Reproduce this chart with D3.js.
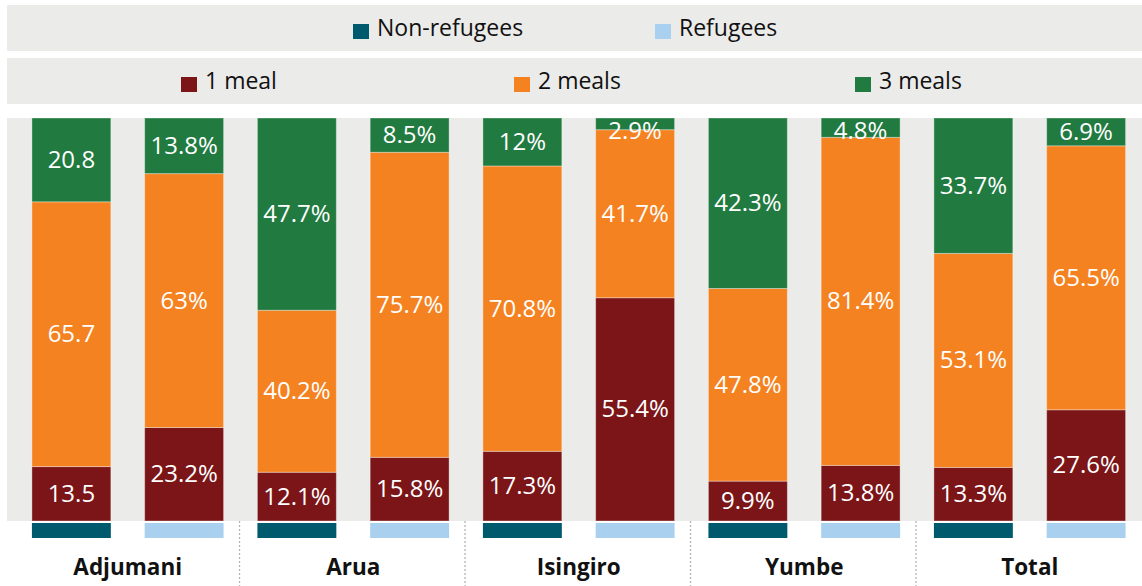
<!DOCTYPE html>
<html>
<head>
<meta charset="utf-8">
<script src="https://cdn.jsdelivr.net/npm/d3@7"></script>
<style>
  body { margin: 0; background: #fff; }
  text { font-family: "Open Sans", sans-serif; }
</style>
</head>
<body>
<div id="vis"></div>
<script>
const WIDTH = 1142;
const HEIGHT = 586;
const PLOT = {left: 7, right: 1142, top: 118, bottom: 521};

// data
const districts = ['Adjumani', 'Arua', 'Isingiro', 'Yumbe', 'Total'];
const groups = ['Non-refugees', 'Refugees'];
const meals = ['1 meal', '2 meals', '3 meals'];

const oneMeal = [[13.5, 23.2], [12.1, 15.8], [17.3, 55.4], [9.9, 13.8], [13.3, 27.6]];
const twoMeals = [[65.7, 63], [40.2, 75.7], [70.8, 41.7], [47.8, 81.4], [53.1, 65.5]];
const threeMeals = [[20.8, 13.8], [47.7, 8.5], [12, 2.9], [42.3, 4.8], [33.7, 6.9]];

const oneMealLabels = [['13.5', '23.2%'], ['12.1%', '15.8%'], ['17.3%', '55.4%'], ['9.9%', '13.8%'], ['13.3%', '27.6%']];
const twoMealLabels = [['65.7', '63%'], ['40.2%', '75.7%'], ['70.8%', '41.7%'], ['47.8%', '81.4%'], ['53.1%', '65.5%']];
const threeMealLabels = [['20.8', '13.8%'], ['47.7%', '8.5%'], ['12%', '2.9%'], ['42.3%', '4.8%'], ['33.7%', '6.9%']];

const MEAL_COLORS = ['#7B1517', '#F58220', '#217A3F'];
const GROUP_COLORS = ['#005A6E', '#A9D1EF'];
const BG = '#EBEBE9';

// flat rows, one per bar
const rows = [];
districts.forEach((d, i) => {
  groups.forEach((g, j) => {
    rows.push({
      district: d, group: g,
      '1 meal': oneMeal[i][j], '2 meals': twoMeals[i][j], '3 meals': threeMeals[i][j],
      labels: [oneMealLabels[i][j], twoMealLabels[i][j], threeMealLabels[i][j]]
    });
  });
});

const svg = d3.select('#vis').append('svg')
  .attr('width', WIDTH).attr('height', HEIGHT);

// legend boxes
const legends = [
  {y: 5, items: groups, colors: GROUP_COLORS, xs: [353, 655]},
  {y: 58, items: meals, colors: MEAL_COLORS, xs: [181, 514, 855]}
];
legends.forEach(l => {
  svg.append('rect').attr('x', 7).attr('y', l.y).attr('width', 1135).attr('height', 46).attr('fill', BG);
  l.items.forEach((name, i) => {
    svg.append('rect').attr('x', l.xs[i]).attr('y', l.y + 19).attr('width', 16).attr('height', 15).attr('fill', l.colors[i]);
    svg.append('text').attr('x', l.xs[i] + 24).attr('y', l.y + 31)
      .attr('font-size', 23).attr('fill', '#111').text(name);
  });
});

// scales
const x0 = d3.scaleBand().domain(districts).range([15, 1142.5]);
const x1 = d3.scaleBand().domain(groups).range([0, x0.bandwidth()])
  .paddingInner(0.3).paddingOuter(0.15);
const y = d3.scaleLinear().domain([0, 100]).range([PLOT.bottom, PLOT.top]);

svg.append('rect').attr('x', PLOT.left).attr('y', PLOT.top)
  .attr('width', PLOT.right - PLOT.left).attr('height', PLOT.bottom - PLOT.top).attr('fill', BG);

const stack = d3.stack().keys(meals)(rows);

const layers = svg.selectAll('g.layer').data(stack).enter().append('g').attr('class', 'layer');

layers.selectAll('rect').data((s, k) => s.map(d => ({d, k}))).enter().append('rect')
  .attr('x', o => x0(o.d.data.district) + x1(o.d.data.group))
  .attr('y', o => y(Math.min(o.d[1], 100)))
  .attr('width', x1.bandwidth())
  .attr('height', o => y(o.d[0]) - y(Math.min(o.d[1], 100)))
  .attr('fill', o => MEAL_COLORS[o.k])
  .attr('stroke', 'rgba(255,255,255,0.35)').attr('stroke-width', 1);

layers.selectAll('text').data((s, k) => s.map(d => ({d, k}))).enter().append('text')
  .attr('x', o => x0(o.d.data.district) + x1(o.d.data.group) + x1.bandwidth() / 2)
  .attr('y', o => Math.max((y(o.d[0]) + y(Math.min(o.d[1], 100))) / 2, PLOT.top + 13) + 8)
  .attr('text-anchor', 'middle').attr('font-size', 24).attr('fill', '#fff')
  .text(o => o.d.data.labels[o.k]);

// group strips under bars
svg.selectAll('rect.strip').data(rows).enter().append('rect')
  .attr('class', 'strip')
  .attr('x', d => x0(d.district) + x1(d.group))
  .attr('y', 523).attr('width', x1.bandwidth()).attr('height', 15)
  .attr('fill', d => GROUP_COLORS[groups.indexOf(d.group)]);

// separators
svg.selectAll('line.sep').data(districts.slice(1)).enter().append('line')
  .attr('class', 'sep')
  .attr('x1', d => x0(d) - 1).attr('x2', d => x0(d) - 1)
  .attr('y1', PLOT.bottom).attr('y2', HEIGHT)
  .attr('stroke', '#b5b5b5').attr('stroke-width', 1.3).attr('stroke-dasharray', '2,2');

// category labels
svg.selectAll('text.cat').data(districts).enter().append('text')
  .attr('class', 'cat')
  .attr('x', d => x0(d) + x0.bandwidth() / 2).attr('y', 575)
  .attr('text-anchor', 'middle').attr('font-size', 22.5).attr('font-weight', 'bold').attr('fill', '#111')
  .text(d => d);
</script>
</body>
</html>
